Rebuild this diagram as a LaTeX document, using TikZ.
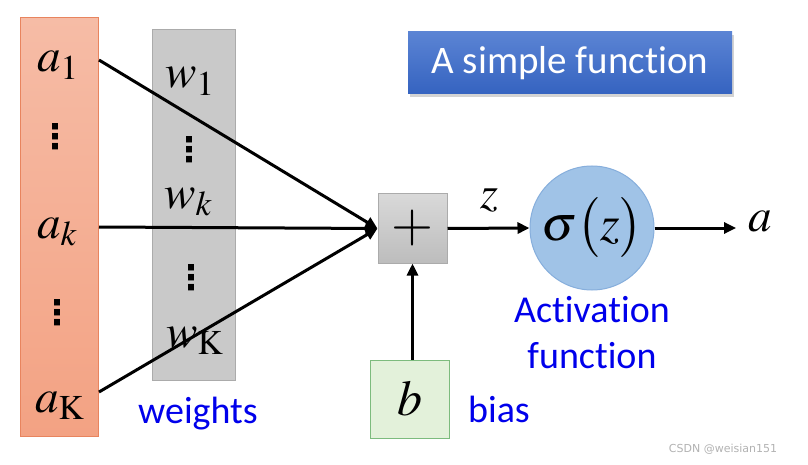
\documentclass[tikz,border=0pt]{standalone}
\usepackage{mathptmx}
\usepackage{fontspec}
\newfontfamily\carlito[Ligatures={NoCommon,NoContextual,NoRequired}]{Carlito}
\newfontfamily\wmfont{DejaVu Sans}
\newfontfamily\dotfont{DejaVu Sans Bold}
\usetikzlibrary{arrows.meta,shadows}
\definecolor{ortop}{HTML}{F6BCA6}
\definecolor{orbot}{HTML}{F3A283}
\definecolor{ordraw}{HTML}{E8845E}
\definecolor{grfill}{HTML}{C9C9C9}
\definecolor{grdraw}{HTML}{ABABAB}
\definecolor{bluefill}{HTML}{A0C3E7}
\definecolor{bluedraw}{HTML}{86AEDC}
\definecolor{greenfill}{HTML}{E3F1DA}
\definecolor{greendraw}{HTML}{7DBB7D}
\definecolor{titletop}{HTML}{5B84D4}
\definecolor{titlebot}{HTML}{3563C0}
\definecolor{lblblue}{RGB}{0,0,235}
\begin{document}
\begin{tikzpicture}[x=1pt,y=-1pt,
  mathtxt/.style={font=\fontsize{47}{50}\selectfont, inner sep=0pt},
  dotstxt/.style={font=\dotfont\fontsize{34}{36}\selectfont, inner sep=0pt},
  lbl/.style={font=\carlito\fontsize{38}{44}\selectfont, text=lblblue, inner sep=0pt},
  conn/.style={line width=3pt, -{Triangle[length=12pt,width=11pt]}},
]
\useasboundingbox (0,0) rectangle (808,465);
% columns
\node[draw=ordraw, line width=1pt, top color=ortop, bottom color=orbot,
      minimum width=78pt, minimum height=418pt, inner sep=0pt] (acol) at (59,227) {};
\node[draw=grdraw, line width=1pt, fill=grfill,
      minimum width=83pt, minimum height=350pt, inner sep=0pt] (wcol) at (193.5,205) {};
% a texts
\node[mathtxt, anchor=base west] (a1) at (37,72) {$a_1$};
\node[mathtxt, anchor=base west] (ak) at (37,238) {$a_k$};
\node[mathtxt, anchor=base west] (aK) at (35,412) {$a_{\mathrm{K}}$};
\node[dotstxt] (ad1) at (55,137) {⋮};
\node[dotstxt] (ad2) at (57,313) {⋮};
% w texts
\node[mathtxt, anchor=base west] (w1) at (165,88) {$w_1$};
\node[mathtxt, anchor=base west] (wk) at (164,208) {$w_k$};
\node[mathtxt, anchor=base west] (wK) at (166,347) {$w_{\mathrm{K}}$};
\node[dotstxt] (wd1) at (189,150) {⋮};
\node[dotstxt] (wd2) at (191,278) {⋮};
% plus
\node[draw=grdraw, line width=1pt, top color=black!15, bottom color=black!26,
      minimum size=69pt, inner sep=0pt, font=\fontsize{54}{56}\selectfont] (plus) at (412.5,228.5) {$+$};
% line starts
\coordinate (s1) at (99,60);
\coordinate (sk) at (99,227);
\coordinate (sK) at (99,392);
\draw[conn] (s1) -- (plus.west);
\draw[conn] (sk) -- (plus.west);
\draw[conn] (sK) -- (plus.west);
% sigma
\node[circle, draw=bluedraw, line width=1pt, fill=bluefill, minimum size=124pt, inner sep=0pt,
      font=\fontsize{50}{54}\selectfont] (sig) at (592,228) {$\sigma\bigl(z\bigr)$};
\draw[conn] (plus.east) -- (sig.west);
\node[mathtxt, font=\fontsize{46}{48}\selectfont] (z) at (489,200) {$z$};
\node[mathtxt] (aout) at (760,222) {$a$};
\draw[conn] (sig.east) -- ([xshift=-12pt]sig.east -| aout.west);
% bias
\node[draw=greendraw, line width=1pt, fill=greenfill, minimum width=79pt, minimum height=78pt,
      inner sep=0pt, font=\fontsize{50}{52}\selectfont] (b) at (409.5,399) {$b$};
\draw[conn] (plus.south |- b.north) -- (plus.south);
% labels
\node[lbl, anchor=base] (weights) at (198,423) {weights};
\node[lbl, anchor=base] (bias) at (499,422) {bias};
\node[lbl, anchor=base] (act1) at (592,322) {Activa\kern0pt tion};
\node[lbl, anchor=base] (act2) at (592,368) {func\kern0pt tion};
% title
\node[top color=titletop, bottom color=titlebot, minimum width=324pt, minimum height=62pt,
      inner sep=0pt, drop shadow={shadow xshift=2pt, shadow yshift=-3pt, opacity=0.35},
      text=white, font=\carlito\fontsize{39}{44}\selectfont] (title) at (570,63) {A simple func\kern0pt tion};
% watermark
\node[font=\wmfont\fontsize{11}{12}\selectfont, text=black!30, inner sep=0pt] (wm) at (723,449) {CSDN @weisian151};
\end{tikzpicture}
\end{document}
